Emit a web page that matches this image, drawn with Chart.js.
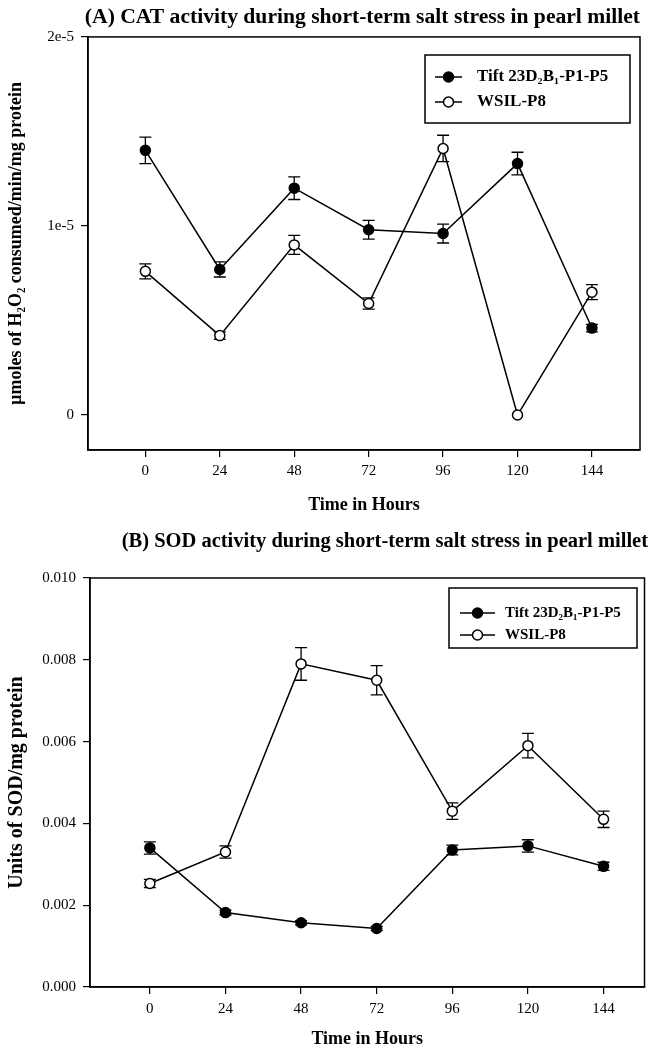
<!DOCTYPE html>
<html>
<head>
<meta charset="utf-8">
<script src="https://cdn.jsdelivr.net/npm/chart.js@4.4.1/dist/chart.umd.min.js"></script>
<style>
  html, body { margin: 0; padding: 0; background: #fff; }
  .painel { position: absolute; left: 0; width: 651px; }
  #painelA { top: 0; height: 525px; }
  #painelB { top: 520px; height: 531px; }
</style>
</head>
<body>
<div class="painel" id="painelA"><canvas id="graficoCAT" width="651" height="525"></canvas></div>
<div class="painel" id="painelB"><canvas id="graficoSOD" width="651" height="531"></canvas></div>
<script>
// ====== DADOS ======
const horas = [0, 24, 48, 72, 96, 120, 144];
const nomeTift = "Tift 23D₂B₁-P1-P5";
const nomeWsil = "WSIL-P8";

// (A) CAT
const catTift = [1.40e-5, 0.77e-5, 1.20e-5, 0.98e-5, 0.96e-5, 1.33e-5, 0.46e-5];
const catTiftErro = [0.07e-5, 0.04e-5, 0.06e-5, 0.05e-5, 0.05e-5, 0.06e-5, 0.02e-5];
const catWsil = [0.76e-5, 0.42e-5, 0.90e-5, 0.59e-5, 1.41e-5, 0.0, 0.65e-5];
const catWsilErro = [0.04e-5, 0.02e-5, 0.05e-5, 0.03e-5, 0.07e-5, 0.0, 0.04e-5];
const catTicks = [0, 1e-5, 2e-5];
const catTickLabels = ["0", "1e-5", "2e-5"];

// (B) SOD
const sodTift = [0.0034, 0.00182, 0.00157, 0.00143, 0.00335, 0.00345, 0.00295];
const sodTiftErro = [0.00015, 0.00006, 0.00005, 0.00005, 0.00012, 0.00015, 0.0001];
const sodWsil = [0.00253, 0.0033, 0.0079, 0.0075, 0.0043, 0.0059, 0.0041];
const sodWsilErro = [0.0001, 0.00015, 0.0004, 0.00036, 0.0002, 0.0003, 0.0002];
const sodTicks = [0, 0.002, 0.004, 0.006, 0.008, 0.010];
const sodTickLabels = ["0.000", "0.002", "0.004", "0.006", "0.008", "0.010"];

Chart.defaults.font.family = "'Liberation Serif', 'Times New Roman', serif";
Chart.defaults.color = "#000";

// ====== PLUGINS ======
// barras de erro, desenhadas antes dos pontos
const barrasErro = {
  id: "barrasErro",
  beforeDatasetsDraw(chart) {
    const { ctx, scales } = chart;
    ctx.save();
    ctx.strokeStyle = "#000";
    ctx.lineWidth = 1.3;
    chart.data.datasets.forEach((ds) => {
      ds.data.forEach((p, i) => {
        const e = ds.erros[i];
        if (!e) return;
        const x = scales.x.getPixelForValue(p.x);
        const yTop = scales.y.getPixelForValue(p.y + e);
        const yBot = scales.y.getPixelForValue(p.y - e);
        ctx.beginPath();
        ctx.moveTo(x, yTop); ctx.lineTo(x, yBot);
        ctx.moveTo(x - 6, yTop); ctx.lineTo(x + 6, yTop);
        ctx.moveTo(x - 6, yBot); ctx.lineTo(x + 6, yBot);
        ctx.stroke();
      });
    });
    ctx.restore();
  }
};

// moldura em volta da área do gráfico
const moldura = {
  id: "moldura",
  beforeDatasetsDraw(chart) {
    const { ctx, chartArea: a } = chart;
    ctx.save();
    ctx.strokeStyle = "#000";
    ctx.lineWidth = 1.5;
    ctx.strokeRect(a.left, a.top, a.right - a.left, a.bottom - a.top);
    ctx.restore();
  }
};

// legenda com caixa, estilo SigmaPlot
const legendaCaixa = {
  id: "legendaCaixa",
  afterDraw(chart, args, o) {
    const { ctx } = chart;
    ctx.save();
    ctx.fillStyle = "#fff";
    ctx.fillRect(o.x, o.y, o.w, o.h);
    ctx.strokeStyle = "#000";
    ctx.lineWidth = 1.5;
    ctx.strokeRect(o.x, o.y, o.w, o.h);
    chart.data.datasets.forEach((ds, i) => {
      const ly = o.y + o.primeira + i * o.passo;
      ctx.lineWidth = 1.5;
      ctx.beginPath();
      ctx.moveTo(o.x + o.linhaIni, ly);
      ctx.lineTo(o.x + o.linhaFim, ly);
      ctx.stroke();
      ctx.beginPath();
      ctx.arc(o.x + (o.linhaIni + o.linhaFim) / 2, ly, 5, 0, Math.PI * 2);
      ctx.fillStyle = ds.pointBackgroundColor;
      ctx.fill();
      ctx.stroke();
      ctx.fillStyle = "#000";
      ctx.font = "bold " + o.fonte + "px 'Liberation Serif', serif";
      ctx.textBaseline = "middle";
      ctx.fillText(ds.label, o.x + o.textoX, ly);
    });
    ctx.restore();
  }
};

// ====== GRÁFICO ======
function serie(nome, valores, erros, cheio) {
  return {
    label: nome,
    data: horas.map((h, i) => ({ x: h, y: valores[i] })),
    erros,
    borderColor: "#000",
    borderWidth: 1.5,
    pointRadius: 5,
    pointBorderWidth: 1.5,
    pointBorderColor: "#000",
    pointBackgroundColor: cheio ? "#000" : "#fff",
    tension: 0,
    fill: false
  };
}

function criarGrafico(id, c) {
  return new Chart(document.getElementById(id), {
    type: "line",
    data: {
      datasets: [
        serie(nomeTift, c.tift, c.tiftErro, true),
        serie(nomeWsil, c.wsil, c.wsilErro, false)
      ]
    },
    options: {
      responsive: false,
      animation: false,
      devicePixelRatio: 1,
      layout: { padding: { left: 0, right: c.padDir, top: 0, bottom: 0 } },
      plugins: {
        legend: { display: false },
        tooltip: { enabled: false },
        title: {
          display: true,
          text: c.titulo,
          align: "end",
          font: { size: c.tamTitulo, weight: "bold" },
          padding: c.padTitulo
        },
        legendaCaixa: c.legenda
      },
      scales: {
        x: {
          type: "linear",
          min: c.xMin,
          max: c.xMax,
          afterBuildTicks: (s) => { s.ticks = horas.map((v) => ({ value: v })); },
          afterFit: (s) => { s.height = c.altX; },
          ticks: { autoSkip: false, maxRotation: 0, padding: c.padTickX, font: { size: 15 },
                   callback: (v) => String(v) },
          grid: { drawOnChartArea: false, drawTicks: true, tickLength: 7, color: "#000", lineWidth: 1.2 },
          border: { display: true, color: "#000", width: 1.5 },
          title: { display: true, text: "Time in Hours", font: { size: 18, weight: "bold" },
                   padding: { top: 0, bottom: c.padTituloX } }
        },
        y: {
          min: c.yMin,
          max: c.yMax,
          afterBuildTicks: (s) => { s.ticks = c.yTicks.map((v) => ({ value: v })); },
          afterFit: (s) => { s.width = c.largY; },
          ticks: { autoSkip: false, padding: 7, font: { size: 15 },
                   callback: (v, i) => c.yLabels[i] },
          grid: { drawOnChartArea: false, drawTicks: true, tickLength: 7, color: "#000", lineWidth: 1.2 },
          border: { display: true, color: "#000", width: 1.5 },
          title: { display: true, text: c.tituloY, font: { size: c.tamTituloY, weight: "bold" },
                   padding: { top: c.padTituloY, bottom: 0 } }
        }
      }
    },
    plugins: [moldura, barrasErro, legendaCaixa]
  });
}

criarGrafico("graficoCAT", {
  titulo: "(A) CAT activity during short-term salt stress in pearl millet",
  tamTitulo: 21.6,
  padTitulo: { top: 4, bottom: 7 },
  padDir: 11,
  tift: catTift, tiftErro: catTiftErro,
  wsil: catWsil, wsilErro: catWsilErro,
  xMin: -18.5, xMax: 159.5,
  yMin: -0.185e-5, yMax: 2e-5,
  yTicks: catTicks, yLabels: catTickLabels,
  tituloY: "µmoles of H₂O₂ consumed/min/mg protein",
  tamTituloY: 18,
  largY: 88, altX: 75, padTickX: 5, padTituloX: 9, padTituloY: 6,
  legenda: { x: 425, y: 55, w: 205, h: 68, primeira: 22, passo: 25, linhaIni: 10, linhaFim: 37, textoX: 52, fonte: 17 }
});

criarGrafico("graficoSOD", {
  titulo: "(B) SOD activity during short-term salt stress in pearl millet",
  tamTitulo: 20.5,
  padTitulo: { top: 9.7, bottom: 23.7 },
  padDir: 3,
  tift: sodTift, tiftErro: sodTiftErro,
  wsil: sodWsil, wsilErro: sodWsilErro,
  xMin: -19, xMax: 157,
  yMin: 0, yMax: 0.010,
  yTicks: sodTicks, yLabels: sodTickLabels,
  tituloY: "Units of SOD/mg protein",
  tamTituloY: 20,
  largY: 90, altX: 64, padTickX: 6, padTituloX: 0.5, padTituloY: 5,
  legenda: { x: 449, y: 68, w: 188, h: 60, primeira: 25, passo: 22, linhaIni: 11, linhaFim: 46, textoX: 56, fonte: 15 }
});
</script>
</body>
</html>
